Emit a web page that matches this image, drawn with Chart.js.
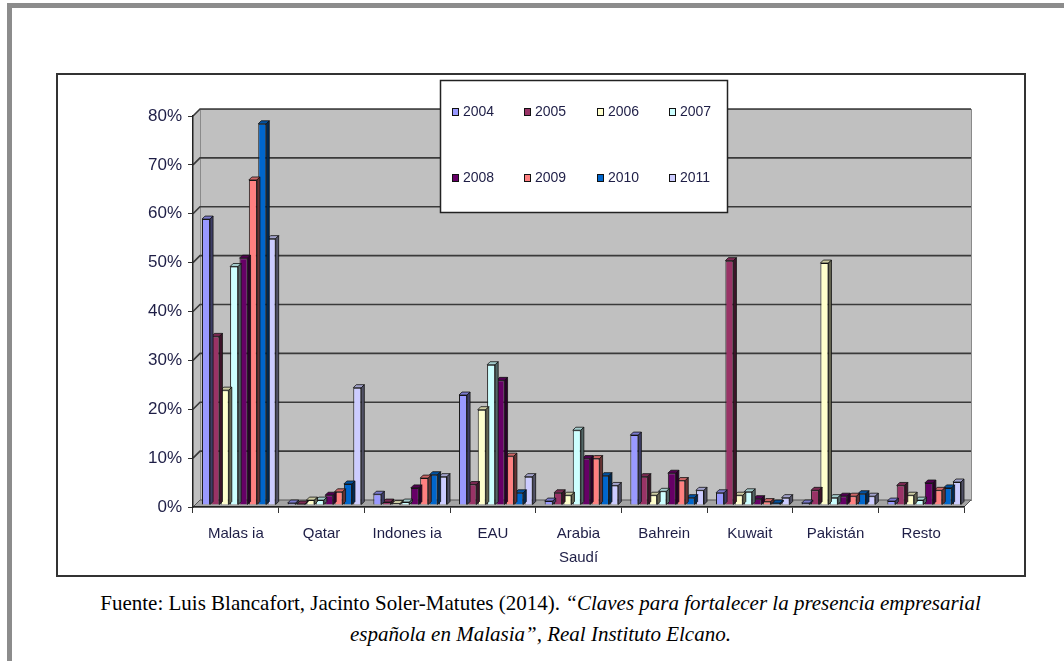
<!DOCTYPE html>
<html lang="es">
<head>
<meta charset="utf-8">
<title>Distribución por país</title>
<script src="https://cdn.jsdelivr.net/npm/chart.js@4"></script>
<style>
  html, body { margin: 0; padding: 0; background: #fff; }
  body { width: 1064px; height: 661px; position: relative; overflow: hidden; }
  #frameTop { position: absolute; left: 7px; top: 3px; right: 0; height: 5px; background: #8c8c8c; }
  #frameLeft { position: absolute; left: 7px; top: 3px; width: 5px; bottom: 0; background: #8c8c8c; }
  #box { position: absolute; left: 56px; top: 73px; width: 966px; height: 500px; border: 2px solid #333; }
  #chart { position: absolute; left: 0; top: 0; z-index: 2; }
  .cap { position: absolute; left: 0; width: 1081px; text-align: center; white-space: nowrap;
         font-family: 'Liberation Serif', 'Times New Roman', serif; font-size: 21px; line-height: 24px; color: #000; }
  .cap i { font-style: italic; }
</style>
</head>
<body>
<div id="frameTop"></div>
<div id="frameLeft"></div>
<div id="box"></div>
<canvas id="chart" width="1064" height="661"></canvas>
<div class="cap" style="top:591px">Fuente: Luis Blancafort, Jacinto Soler-Matutes (2014). <i>“Claves para fortalecer la presencia empresarial</i></div>
<div class="cap" style="top:622px"><i>española en Malasia”, Real Instituto Elcano.</i></div>

<script>
// Countries on the x axis
const categories = ['Malas ia', 'Qatar', 'Indones ia', 'EAU', ['Arabia', 'Saudí'], 'Bahrein', 'Kuwait', 'Pakistán', 'Resto'];

// Share per country and year (%)
const years = ['2004', '2005', '2006', '2007', '2008', '2009', '2010', '2011'];
const v2004 = [58.5, 0.4, 2.2, 22.5, 0.8, 14.3, 2.5, 0.4, 0.8];
const v2005 = [34.5, 0.2, 0.6, 4.2, 2.5, 5.8, 50.0, 3.0, 4.0];
const v2006 = [23.5, 1.0, 0.3, 19.5, 2.0, 2.0, 2.0, 49.5, 2.0];
const v2007 = [48.8, 1.0, 0.6, 28.7, 15.3, 2.8, 2.7, 1.5, 1.0];
const v2008 = [50.5, 2.0, 3.5, 25.5, 9.5, 6.5, 1.3, 1.8, 4.5];
const v2009 = [66.5, 2.7, 5.5, 10.0, 9.5, 5.0, 0.7, 1.8, 3.0];
const v2010 = [78.0, 4.3, 6.2, 2.5, 6.0, 1.5, 0.4, 2.3, 3.5];
const v2011 = [54.5, 24.0, 5.8, 5.8, 4.0, 3.0, 1.5, 1.8, 4.7];

// Value axis
const yTickValues = [0, 10, 20, 30, 40, 50, 60, 70, 80];
const yTickLabels = ['0%', '10%', '20%', '30%', '40%', '50%', '60%', '70%', '80%'];

const seriesValues = [v2004, v2005, v2006, v2007, v2008, v2009, v2010, v2011];
const seriesColors = ['#9999FF', '#993366', '#FFFFCC', '#CCFFFF', '#660066', '#FF8080', '#0066CC', '#CCCCFF'];

const labelColor = '#1e1e46';
const labelFont = "'Liberation Sans', Arial, sans-serif";

// Depth of the walls and of each column
const wallDX = 7, wallDY = 7;
const colShiftX = 3, colShiftY = 2;
const faceDepth = 3;

function shade(hex, f) {
  const n = parseInt(hex.slice(1), 16);
  const r = Math.round(((n >> 16) & 255) * f), g = Math.round(((n >> 8) & 255) * f), b = Math.round((n & 255) * f);
  return `rgb(${Math.min(r,255)},${Math.min(g,255)},${Math.min(b,255)})`;
}

const legendLayout = { left: 440, top: 80, width: 287, height: 132, colX: [452, 524, 597, 669], rowY: [112, 178] };

const plot3d = {
  id: 'plot3d',
  beforeDraw(chart) {
    const { ctx, chartArea: a, scales: { y } } = chart;
    ctx.save();
    // side wall
    ctx.fillStyle = '#c0c0c0';
    ctx.beginPath();
    ctx.moveTo(a.left, a.bottom);
    ctx.lineTo(a.left, a.top);
    ctx.lineTo(a.left + wallDX, a.top - wallDY);
    ctx.lineTo(a.left + wallDX, a.bottom - wallDY);
    ctx.closePath();
    ctx.fill();
    // back wall
    ctx.fillRect(a.left + wallDX, a.top - wallDY, a.width, a.height);
    ctx.strokeStyle = '#8a8a8a';
    ctx.lineWidth = 1;
    ctx.strokeRect(a.left + wallDX + 0.5, a.top - wallDY + 0.5, a.width, a.height);
    // floor
    ctx.fillStyle = '#a4a4a4';
    ctx.beginPath();
    ctx.moveTo(a.left, a.bottom);
    ctx.lineTo(a.right, a.bottom);
    ctx.lineTo(a.right + wallDX, a.bottom - wallDY);
    ctx.lineTo(a.left + wallDX, a.bottom - wallDY);
    ctx.closePath();
    ctx.fill();
    ctx.strokeStyle = '#555';
    ctx.stroke();
    // gridlines across side and back walls
    ctx.strokeStyle = '#3a3a3a';
    ctx.lineWidth = 1.6;
    y.ticks.forEach(t => {
      if (t.value === 0) return;
      const py = y.getPixelForValue(t.value);
      ctx.beginPath();
      ctx.moveTo(a.left, py);
      ctx.lineTo(a.left + wallDX, py - wallDY);
      ctx.lineTo(a.right + wallDX, py - wallDY);
      ctx.stroke();
    });
    ctx.restore();
  },
  beforeDatasetsDraw(chart) {
    chart.ctx.save();
    chart.ctx.translate(colShiftX, -colShiftY);
  },
  afterDatasetDraw(chart, args) {
    const { ctx } = chart;
    const color = chart.data.datasets[args.index].backgroundColor;
    args.meta.data.forEach(bar => {
      const { x, y, base, width } = bar.getProps(['x', 'y', 'base', 'width'], true);
      const x0 = x - width / 2, x1 = x + width / 2;
      ctx.lineWidth = 0.8;
      ctx.strokeStyle = '#111';
      // top face
      ctx.fillStyle = shade(color, 0.8);
      ctx.beginPath();
      ctx.moveTo(x0, y); ctx.lineTo(x1, y);
      ctx.lineTo(x1 + faceDepth, y - faceDepth); ctx.lineTo(x0 + faceDepth, y - faceDepth);
      ctx.closePath(); ctx.fill(); ctx.stroke();
      // right face
      ctx.fillStyle = shade(color, 0.4);
      ctx.beginPath();
      ctx.moveTo(x1, y); ctx.lineTo(x1 + faceDepth, y - faceDepth);
      ctx.lineTo(x1 + faceDepth, base - faceDepth); ctx.lineTo(x1, base);
      ctx.closePath(); ctx.fill(); ctx.stroke();
    });
  },
  afterDatasetsDraw(chart) {
    chart.ctx.restore();
  },
  afterDraw(chart) {
    const { ctx } = chart;
    const L = legendLayout;
    ctx.save();
    ctx.fillStyle = '#fff';
    ctx.fillRect(L.left, L.top, L.width, L.height);
    ctx.strokeStyle = '#222';
    ctx.lineWidth = 1.5;
    ctx.strokeRect(L.left + 0.5, L.top + 0.5, L.width, L.height);
    ctx.font = `14px ${labelFont}`;
    ctx.textBaseline = 'middle';
    chart.data.datasets.forEach((ds, i) => {
      const cx = L.colX[i % 4], cy = L.rowY[Math.floor(i / 4)];
      ctx.fillStyle = ds.backgroundColor;
      ctx.fillRect(cx, cy - 4, 7, 8);
      ctx.lineWidth = 1;
      ctx.strokeStyle = '#111';
      ctx.strokeRect(cx + 0.5, cy - 3.5, 6, 7);
      ctx.fillStyle = labelColor;
      ctx.fillText(ds.label, cx + 11, cy);
    });
    ctx.restore();
  }
};

new Chart(document.getElementById('chart'), {
  type: 'bar',
  data: {
    labels: categories,
    datasets: years.map((yr, i) => ({
      label: yr,
      data: seriesValues[i],
      backgroundColor: seriesColors[i],
      borderColor: '#1a1a1a',
      borderWidth: 1,
      categoryPercentage: 0.875,
      barPercentage: 0.86
    }))
  },
  options: {
    responsive: false,
    animation: false,
    devicePixelRatio: 1,
    layout: { padding: { left: 133, right: 100, top: 116, bottom: 94 } },
    plugins: { legend: { display: false }, tooltip: { enabled: false } },
    scales: {
      x: {
        grid: { display: true, drawOnChartArea: false, drawTicks: true, tickLength: 6, color: '#333', offset: true },
        border: { display: true, color: '#222', width: 1.5 },
        ticks: { color: labelColor, font: { family: labelFont, size: 15, lineHeight: 1.6 }, padding: 9, maxRotation: 0, autoSkip: false },
        afterFit(s) { s.height = 60; }
      },
      y: {
        min: 0, max: 80,
        afterBuildTicks(s) { s.ticks = yTickValues.map(v => ({ value: v })); },
        grid: { drawOnChartArea: false, drawTicks: true, tickLength: 5, color: '#333' },
        border: { display: true, color: '#222', width: 1.5 },
        ticks: { color: labelColor, font: { family: labelFont, size: 17 }, padding: 6, callback: (v, i) => yTickLabels[i] },
        afterFit(s) { s.width = 60; }
      }
    }
  },
  plugins: [plot3d]
});
</script>
</body>
</html>
